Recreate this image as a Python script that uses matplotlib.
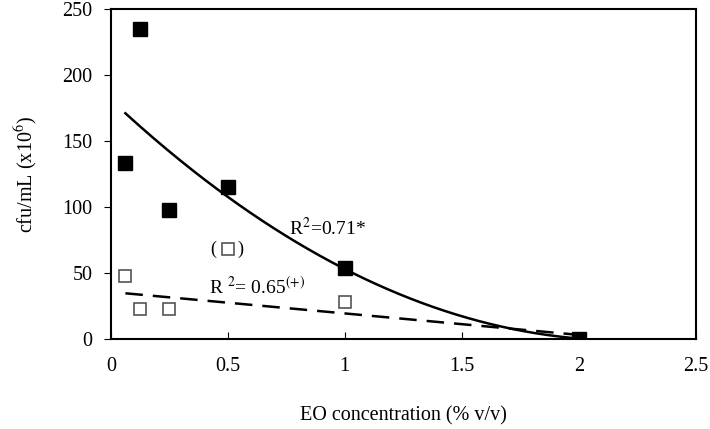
import numpy as np
import matplotlib.pyplot as plt

plt.rcParams['font.family'] = ['Liberation Serif', 'DejaVu Serif']
plt.rcParams['mathtext.fontset'] = 'stix'

# EO concentration (% v/v)
conc_filled = [0.0625, 0.125, 0.25, 0.5, 1.0, 2.0]
cfu_filled = [133, 235, 98, 115, 54, 0]

conc_open = [0.0625, 0.125, 0.25, 1.0, 2.0]
cfu_open = [48, 23, 23, 28, 0]

# outlier shown in parentheses, excluded from the fit
conc_outlier = [0.5]
cfu_outlier = [68]

fig = plt.figure(figsize=(7.1, 4.29), dpi=100)
ax = fig.add_axes([0.156, 0.21, 0.824, 0.769])

# trend lines
xs = np.linspace(0.0625, 2.0, 200)
p2 = np.polyfit(conc_filled, cfu_filled, 2)
ax.plot(xs, np.polyval(p2, xs), color='black', lw=1.8, zorder=2)
p1 = np.polyfit(conc_open, cfu_open, 1)
ax.plot(xs, np.polyval(p1, xs), color='black', lw=1.8, ls=(0, (7, 4)), zorder=2)

ax.plot(conc_open, cfu_open, 's', ms=9, mfc='white', mec='#555555', mew=1.2, zorder=3)
ax.plot(conc_outlier, cfu_outlier, 's', ms=9, mfc='white', mec='#555555', mew=1.2, zorder=3)
ax.plot(conc_filled, cfu_filled, 's', ms=10.5, color='black', zorder=4)

ax.text(conc_outlier[0] - 0.06, cfu_outlier[0], '(', fontsize=13, ha='center', va='center')
ax.text(conc_outlier[0] + 0.055, cfu_outlier[0], ')', fontsize=13, ha='center', va='center')

ax.text(0.76, 84, r'R$^2$=0.71*', fontsize=14, ha='left', va='center')
ax.text(0.42, 40, r'R $^2$= 0.65$^{(+)}$', fontsize=14, ha='left', va='center')

ax.set_xlim(0, 2.5)
ax.set_ylim(0, 250)
ax.set_xticks([0, 0.5, 1, 1.5, 2, 2.5])
ax.set_xticklabels(['0', '0.5', '1', '1.5', '2', '2.5'])
ax.set_yticks([0, 50, 100, 150, 200, 250])
ax.tick_params(axis='x', direction='in', length=5, pad=13, labelsize=14.5)
ax.tick_params(axis='y', direction='out', length=5, pad=8, labelsize=14.5)
for s in ax.spines.values():
    s.set_linewidth(1.5)

ax.set_xlabel('EO concentration (% v/v)', fontsize=14.5, labelpad=22)
ax.set_ylabel(r'cfu/mL (x10$^6$)', fontsize=14.5, labelpad=16)

fig.savefig('out.png', dpi=100)
